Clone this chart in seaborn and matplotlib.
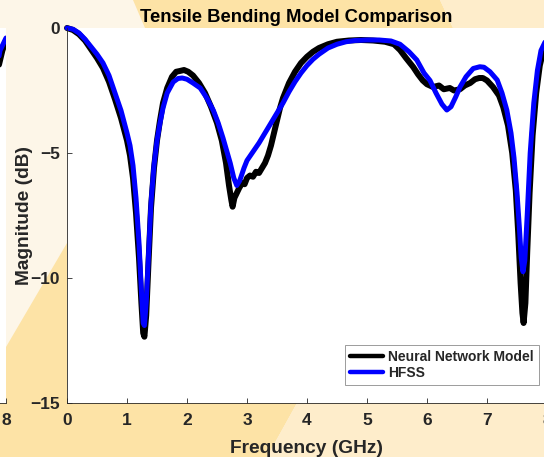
import matplotlib
matplotlib.use("Agg")
import matplotlib.pyplot as plt
from matplotlib.patches import Polygon
import pandas as pd
import seaborn as sns

# HFSS full-wave simulation (GHz, dB)
freq_hfss = [0.00, 0.10, 0.20, 0.30, 0.40, 0.50, 0.60, 0.70, 0.80, 0.90,
             1.00, 1.05, 1.10, 1.15, 1.20, 1.24, 1.27, 1.29, 1.32, 1.36,
             1.40, 1.45, 1.50, 1.55, 1.60, 1.67, 1.77, 1.85, 1.92, 2.00,
             2.10, 2.22, 2.33, 2.44, 2.52, 2.60, 2.66, 2.72, 2.78, 2.83,
             2.88, 2.95, 3.00, 3.10, 3.20, 3.30, 3.40, 3.50, 3.60, 3.70,
             3.80, 3.90, 4.00, 4.10, 4.20, 4.35, 4.50, 4.65, 4.80, 5.00,
             5.20, 5.40, 5.55, 5.70, 5.83, 5.95, 6.05, 6.15, 6.25, 6.33,
             6.40, 6.48, 6.55, 6.65, 6.77, 6.88, 6.95, 7.05, 7.17, 7.25,
             7.33, 7.40, 7.45, 7.50, 7.54, 7.57, 7.60, 7.63, 7.67, 7.72,
             7.78, 7.84, 7.90, 8.00]
mag_hfss = [0.00, -0.05, -0.20, -0.45, -0.75, -1.05, -1.40, -1.90, -2.60, -3.30,
            -4.20, -4.70, -5.50, -6.80, -8.60, -10.50, -11.80, -11.90, -11.00, -9.00,
            -7.00, -5.50, -4.50, -3.80, -3.20, -2.60, -2.16, -2.02, -2.00, -2.05,
            -2.20, -2.40, -2.80, -3.30, -3.80, -4.40, -4.90, -5.40, -6.00, -6.30,
            -6.10, -5.60, -5.30, -4.95, -4.60, -4.20, -3.80, -3.40, -3.00, -2.55,
            -2.15, -1.80, -1.50, -1.25, -1.05, -0.80, -0.65, -0.55, -0.50, -0.48,
            -0.48, -0.52, -0.65, -0.95, -1.28, -1.80, -2.10, -2.60, -3.05, -3.28,
            -3.15, -2.75, -2.36, -1.95, -1.62, -1.55, -1.57, -1.75, -2.08, -2.60,
            -3.28, -4.20, -5.20, -6.60, -8.00, -9.20, -9.75, -9.30, -7.50, -5.00,
            -3.00, -1.70, -0.90, -0.40]

# Neural network prediction (GHz, dB)
freq_nn = [0.00, 0.10, 0.20, 0.30, 0.40, 0.50, 0.60, 0.70, 0.80, 0.90,
           1.00, 1.05, 1.10, 1.15, 1.20, 1.24, 1.27, 1.29, 1.32, 1.36,
           1.40, 1.45, 1.50, 1.55, 1.60, 1.67, 1.75, 1.82, 1.88, 1.95,
           2.02, 2.10, 2.20, 2.30, 2.40, 2.50, 2.58, 2.65, 2.70, 2.74,
           2.76, 2.79, 2.83, 2.87, 2.92, 2.96, 3.00, 3.05, 3.10, 3.15,
           3.20, 3.25, 3.30, 3.35, 3.40, 3.45, 3.50, 3.55, 3.60, 3.70,
           3.80, 3.90, 4.00, 4.10, 4.20, 4.35, 4.50, 4.70, 4.90, 5.10,
           5.30, 5.45, 5.55, 5.65, 5.77, 5.85, 5.93, 6.00, 6.10, 6.20,
           6.28, 6.38, 6.45, 6.55, 6.63, 6.72, 6.80, 6.87, 6.93, 7.00,
           7.10, 7.20, 7.27, 7.35, 7.42, 7.48, 7.52, 7.56, 7.59, 7.61,
           7.64, 7.67, 7.71, 7.76, 7.82, 7.88, 7.94, 8.00]
mag_nn = [0.00, -0.08, -0.25, -0.50, -0.85, -1.20, -1.60, -2.15, -2.85, -3.60,
          -4.50, -5.10, -6.00, -7.40, -9.20, -11.00, -12.20, -12.35, -11.50, -9.30,
          -7.20, -5.60, -4.50, -3.70, -3.00, -2.40, -1.95, -1.75, -1.72, -1.68,
          -1.75, -1.90, -2.20, -2.60, -3.15, -3.80, -4.50, -5.40, -6.30, -6.90,
          -7.15, -6.80, -6.60, -6.40, -6.20, -6.25, -6.00, -5.90, -5.95, -5.75,
          -5.80, -5.60, -5.40, -5.10, -4.70, -4.20, -3.70, -3.20, -2.80, -2.20,
          -1.75, -1.40, -1.15, -0.95, -0.80, -0.65, -0.55, -0.50, -0.48, -0.50,
          -0.55, -0.65, -0.88, -1.20, -1.56, -1.85, -2.10, -2.25, -2.36, -2.30,
          -2.45, -2.40, -2.50, -2.45, -2.30, -2.20, -2.05, -2.00, -2.00, -2.10,
          -2.36, -2.70, -3.16, -3.90, -5.00, -6.50, -8.20, -10.20, -11.40, -11.80,
          -11.00, -9.00, -6.60, -4.30, -2.60, -1.50, -0.90, -0.50]

series_names = ["Neural Network Model", "HFSS"]
series_colors = ["#000000", "#0000FF"]
series_widths = [4.3, 3.6]
x_ticks = [0, 1, 2, 3, 4, 5, 6, 7, 8]
y_ticks = [-15, -10, -5, 0]

df = pd.concat([
    pd.DataFrame({"Frequency (GHz)": freq_nn, "Magnitude (dB)": mag_nn,
                  "Series": series_names[0]}),
    pd.DataFrame({"Frequency (GHz)": freq_hfss, "Magnitude (dB)": mag_hfss,
                  "Series": series_names[1]}),
], ignore_index=True)

sns.set_theme(style="white")
plt.rcParams["font.family"] = ["Liberation Sans", "DejaVu Sans"]
plt.rcParams["font.weight"] = "bold"
plt.rcParams["axes.labelweight"] = "bold"

W, H = 544, 457
fig = plt.figure(figsize=(W / 100, H / 100), dpi=100)
fig.patch.set_facecolor("#FDF6E8")

# slide backdrop shapes, in pixel units
bg = fig.add_axes([0, 0, 1, 1], zorder=-10)
bg.set_xlim(0, W)
bg.set_ylim(H, 0)
bg.axis("off")
shapes = [
    ("#FDE3A6", [(133, 0), (440, 0), (453, 28), (145, 28)]),
    ("#FEEDCB", [(440, 0), (W, 0), (W, 28), (453, 28)]),
    ("#FDE3A6", [(0, 403), (297, 403), (267, H), (0, H)]),
    ("#FEEDCB", [(297, 403), (W, 403), (W, H), (267, H)]),
    ("#FDE3A6", [(67, 243), (67, 403), (6, 403), (6, 347)]),
]
for color, pts in shapes:
    bg.add_patch(Polygon(pts, closed=True, facecolor=color, edgecolor="none"))

ink = "#262626"


def style_axes(ax):
    ax.set_xlim(0, 8)
    ax.set_ylim(-15, 0)
    ax.set_xticks(x_ticks)
    ax.set_yticks(y_ticks)
    ax.set_facecolor("white")
    for side in ("top", "right"):
        ax.spines[side].set_visible(False)
    for side in ("left", "bottom"):
        ax.spines[side].set_color(ink)
        ax.spines[side].set_linewidth(0.6)
    ax.tick_params(direction="in", length=3.6, width=0.6, color=ink,
                   labelcolor=ink, labelsize=12.5, bottom=True, left=True,
                   top=False, right=False)
    ax.tick_params(axis="x", pad=7)
    ax.tick_params(axis="y", pad=5)
    for lab in ax.get_xticklabels() + ax.get_yticklabels():
        lab.set_fontweight("bold")


def draw_curves(ax, clip=True):
    sns.lineplot(data=df, x="Frequency (GHz)", y="Magnitude (dB)", hue="Series",
                 hue_order=series_names, palette=series_colors, estimator=None,
                 sort=False, ax=ax, legend=True)
    for line, w in zip(ax.lines, series_widths):
        line.set_linewidth(w)
        line.set_solid_joinstyle("round")
        line.set_solid_capstyle("round")
        line.set_clip_on(clip)


# neighbouring panel on the slide (only its right edge is in view)
ax_prev = fig.add_axes([(6 - 480) / W, 54 / H, 480 / W, 375 / H])
draw_curves(ax_prev, clip=True)
ax_prev.get_legend().remove()
style_axes(ax_prev)
ax_prev.set_xticks([8])
ax_prev.set_xticklabels(["8"], fontweight="bold")
ax_prev.set_yticklabels([])
ax_prev.set_xlabel("")
ax_prev.set_ylabel("")

# main panel
ax = fig.add_axes([67 / W, 54 / H, 480 / W, 375 / H])
draw_curves(ax, clip=False)
style_axes(ax)
ax.set_title("Tensile Bending Model Comparison", fontsize=13.3,
             fontweight="bold", color="black", pad=4.5, x=(296 - 67) / 480)
ax.set_xlabel("Frequency (GHz)", fontsize=13.75, fontweight="bold",
              color=ink, labelpad=9)
ax.set_ylabel("Magnitude (dB)", fontsize=13.75, fontweight="bold",
              color=ink, labelpad=-2)

handles, labels = ax.get_legend_handles_labels()
for h in handles:
    h.set_linewidth(3.2)
leg = ax.legend(handles, labels, loc="lower right",
                bbox_to_anchor=(0.983, 0.048), frameon=True, fancybox=False,
                framealpha=1, edgecolor="#8c8c8c", facecolor="white",
                prop={"weight": "bold", "size": 10}, handlelength=2.4,
                handletextpad=0.35, labelspacing=0.15, borderpad=0.35,
                borderaxespad=0)
leg.get_frame().set_linewidth(0.6)

fig.savefig("out.png", dpi=100, facecolor=fig.get_facecolor())
